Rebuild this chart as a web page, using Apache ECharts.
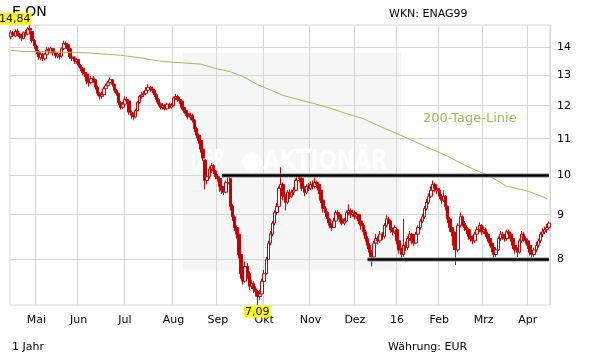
<!DOCTYPE html>
<html><head><meta charset="utf-8">
<script src="https://cdn.jsdelivr.net/npm/echarts@6/dist/echarts.min.js"></script>
<style>html,body{margin:0;padding:0;background:#fff}#c{width:611px;height:364px}</style>
</head><body><div id="c"></div>
<script>
// ---- data ----
const holidays = ['2015-05-01','2015-12-24','2015-12-25','2015-12-31','2016-01-01','2016-03-25','2016-03-28'];
const monthLabels = ['16','Feb','Mrz','Apr','Mai','Jun','Jul','Aug','Sep','Okt','Nov','Dez'];
const yTicks = [8,9,10,11,12,13,14];

const open = [
14.40,14.55,14.42,14.62,14.50,14.42,14.33,14.55,14.50,14.72,
14.60,14.25,14.05,13.85,13.62,13.75,13.58,13.75,13.92,13.82,
13.95,13.80,13.68,13.75,13.68,13.95,14.15,14.10,13.95,13.65,
13.60,13.48,13.55,13.35,13.25,13.10,13.05,12.80,12.75,12.90,
12.85,12.60,12.40,12.30,12.35,12.55,12.65,12.75,12.85,12.70,
12.50,12.40,12.10,11.95,12.05,12.20,12.15,11.80,11.70,11.65,
11.85,12.10,12.30,12.35,12.40,12.50,12.60,12.55,12.50,12.35,
12.20,12.05,11.95,12.00,11.90,12.05,11.95,12.00,12.25,12.30,
12.20,12.15,11.95,11.85,11.75,11.65,11.70,11.55,11.30,11.10,
10.95,10.70,10.40,9.85,9.95,10.15,10.25,10.10,9.95,9.90,
9.70,9.60,9.55,9.80,9.90,9.20,8.95,8.70,8.55,8.10,
7.70,7.55,7.85,7.70,7.45,7.50,7.40,7.35,7.25,7.30,
7.55,7.70,8.00,8.35,8.55,8.80,9.05,9.20,9.65,9.75,
9.45,9.30,9.55,9.45,9.55,9.60,9.85,9.95,9.90,9.65,
9.55,9.70,9.65,9.75,9.70,9.80,9.75,9.60,9.35,9.15,
9.05,8.90,8.75,8.70,8.85,9.05,9.00,8.90,8.80,8.85,
9.05,9.10,9.00,9.05,8.95,9.00,8.85,8.75,8.60,8.45,
8.30,8.15,8.05,8.35,8.45,8.40,8.55,8.50,8.75,8.90,
8.85,8.65,8.60,8.65,8.40,8.20,8.10,8.30,8.25,8.45,
8.55,8.40,8.35,8.55,8.70,8.85,8.95,9.15,9.30,9.45,
9.60,9.75,9.65,9.60,9.45,9.35,9.45,9.20,8.90,8.70,
8.60,8.30,8.20,8.75,8.95,8.80,8.70,8.65,8.50,8.45,
8.40,8.55,8.65,8.75,8.60,8.65,8.55,8.45,8.35,8.25,
8.10,8.20,8.45,8.55,8.50,8.45,8.60,8.55,8.45,8.30,
8.20,8.15,8.40,8.55,8.45,8.40,8.30,8.15,8.10,8.20,
8.30,8.40,8.55,8.60,8.65,8.70];
const close = [
14.55,14.45,14.60,14.50,14.40,14.35,14.55,14.50,14.70,14.65,
14.25,14.05,13.85,13.65,13.75,13.60,13.75,13.90,13.85,13.95,
13.80,13.70,13.75,13.65,13.95,14.15,14.10,13.95,13.65,13.60,
13.50,13.55,13.35,13.25,13.10,13.05,12.80,12.75,12.90,12.85,
12.60,12.40,12.30,12.35,12.55,12.65,12.75,12.85,12.70,12.50,
12.40,12.10,11.95,12.05,12.20,12.15,11.80,11.70,11.65,11.85,
12.10,12.30,12.35,12.40,12.50,12.60,12.55,12.50,12.35,12.20,
12.05,11.95,12.00,11.90,12.05,11.95,12.00,12.25,12.30,12.20,
12.15,11.95,11.85,11.75,11.65,11.70,11.55,11.30,11.10,10.95,
10.70,10.45,9.85,9.95,10.15,10.25,10.10,9.95,9.90,9.70,
9.60,9.55,9.80,9.95,9.20,8.95,8.70,8.55,8.10,7.70,
7.55,7.85,7.70,7.45,7.50,7.40,7.35,7.25,7.30,7.55,
7.70,8.00,8.35,8.55,8.80,9.05,9.20,9.65,9.75,9.45,
9.30,9.55,9.45,9.55,9.60,9.85,9.95,9.90,9.65,9.55,
9.70,9.65,9.75,9.70,9.80,9.75,9.60,9.35,9.15,9.05,
8.90,8.75,8.70,8.85,9.05,9.00,8.90,8.80,8.85,9.05,
9.10,9.00,9.05,8.95,9.00,8.85,8.75,8.60,8.45,8.30,
8.15,8.05,8.35,8.45,8.40,8.55,8.50,8.75,8.90,8.85,
8.65,8.60,8.70,8.40,8.20,8.10,8.30,8.25,8.45,8.55,
8.40,8.35,8.55,8.70,8.85,8.95,9.15,9.30,9.45,9.60,
9.75,9.65,9.60,9.45,9.35,9.45,9.20,8.90,8.70,8.60,
8.30,8.20,8.75,8.95,8.80,8.70,8.65,8.50,8.45,8.40,
8.55,8.65,8.75,8.60,8.65,8.55,8.45,8.35,8.25,8.10,
8.20,8.45,8.55,8.50,8.45,8.60,8.55,8.45,8.30,8.20,
8.15,8.40,8.55,8.45,8.40,8.30,8.15,8.10,8.20,8.30,
8.40,8.55,8.60,8.65,8.70,8.80];
const low = [
14.30,14.38,14.38,14.42,14.30,14.25,14.30,14.40,14.45,14.55,
14.18,13.95,13.75,13.55,13.55,13.50,13.52,13.70,13.75,13.78,
13.70,13.60,13.60,13.55,13.62,13.90,14.00,13.85,13.58,13.50,
13.40,13.40,13.28,13.15,13.00,12.95,12.70,12.62,12.70,12.75,
12.52,12.32,12.20,12.22,12.30,12.48,12.58,12.70,12.62,12.42,
12.32,12.02,11.88,11.90,12.00,12.05,11.72,11.60,11.55,11.60,
11.82,12.05,12.22,12.28,12.35,12.45,12.45,12.40,12.28,12.10,
11.98,11.88,11.88,11.85,11.88,11.90,11.90,11.98,12.18,12.12,
12.05,11.88,11.78,11.68,11.58,11.55,11.48,11.20,11.02,10.85,
10.60,10.38,9.62,9.75,9.90,10.05,10.02,9.88,9.82,9.55,
9.50,9.48,9.52,9.75,9.10,8.85,8.62,8.45,8.02,7.60,
7.48,7.52,7.60,7.38,7.40,7.32,7.25,7.09,7.18,7.28,
7.50,7.68,7.98,8.30,8.50,8.75,9.00,9.15,9.60,9.35,
9.10,9.25,9.38,9.40,9.48,9.58,9.80,9.80,9.58,9.45,
9.50,9.58,9.60,9.62,9.65,9.65,9.50,9.28,9.05,8.95,
8.80,8.68,8.62,8.68,8.82,8.92,8.82,8.75,8.75,8.82,
8.98,8.92,8.95,8.88,8.90,8.78,8.65,8.52,8.38,8.22,
8.05,7.85,8.02,8.30,8.32,8.35,8.42,8.45,8.70,8.78,
8.58,8.52,8.55,8.32,8.12,8.02,8.05,8.18,8.20,8.40,
8.32,8.28,8.32,8.50,8.65,8.80,8.90,9.10,9.25,9.40,
9.55,9.55,9.50,9.38,9.25,9.30,9.10,8.80,8.60,8.50,
8.20,7.88,8.15,8.70,8.72,8.62,8.55,8.42,8.38,8.32,
8.35,8.50,8.60,8.52,8.55,8.48,8.38,8.28,8.15,8.02,
8.05,8.18,8.40,8.42,8.38,8.40,8.48,8.38,8.22,8.12,
8.05,8.12,8.35,8.38,8.32,8.22,8.08,8.02,8.05,8.15,
8.25,8.35,8.48,8.55,8.58,8.65];
const high = [
14.65,14.62,14.68,14.70,14.55,14.50,14.60,14.65,14.78,14.84,
14.62,14.30,14.10,13.90,13.82,13.80,13.80,14.00,14.00,14.02,
13.98,13.85,13.82,13.80,14.00,14.25,14.22,14.15,13.98,13.72,
13.68,13.62,13.58,13.40,13.30,13.15,13.08,12.88,12.98,12.98,
12.88,12.65,12.45,12.45,12.62,12.72,12.82,12.92,12.88,12.72,
12.55,12.42,12.15,12.12,12.30,12.28,12.18,11.85,11.78,11.90,
12.15,12.35,12.45,12.48,12.60,12.70,12.65,12.62,12.55,12.40,
12.25,12.10,12.08,12.05,12.10,12.10,12.08,12.30,12.38,12.35,
12.28,12.18,12.00,11.90,11.80,11.78,11.75,11.58,11.35,11.15,
10.98,10.75,10.40,10.05,10.22,10.32,10.28,10.12,10.02,9.95,
9.75,9.65,9.85,10.00,9.92,9.25,8.98,8.75,8.60,8.12,
7.80,7.95,7.92,7.75,7.58,7.55,7.45,7.38,7.38,7.60,
7.78,8.05,8.40,8.62,8.85,9.10,9.28,9.70,10.20,9.80,
9.50,9.60,9.62,9.62,9.68,9.90,10.02,10.00,9.92,9.70,
9.75,9.78,9.82,9.85,9.95,9.85,9.78,9.62,9.38,9.20,
9.08,8.92,8.80,8.92,9.10,9.12,9.02,8.95,8.92,9.10,
9.25,9.15,9.12,9.10,9.05,9.02,8.90,8.80,8.65,8.50,
8.35,8.20,8.40,8.55,8.50,8.62,8.60,8.80,8.98,8.95,
8.88,8.70,8.75,8.68,8.45,8.25,8.90,8.38,8.50,8.62,
8.58,8.45,8.60,8.75,8.90,9.02,9.20,9.38,9.52,9.70,
9.85,9.80,9.72,9.65,9.50,9.60,9.48,9.22,8.95,8.75,
8.62,8.35,8.80,9.05,8.98,8.85,8.75,8.68,8.55,8.52,
8.60,8.72,8.82,8.78,8.72,8.70,8.60,8.50,8.40,8.28,
8.25,8.50,8.62,8.60,8.55,8.65,8.65,8.58,8.48,8.35,
8.25,8.45,8.62,8.60,8.50,8.45,8.35,8.20,8.25,8.38,
8.45,8.60,8.68,8.72,8.78,8.84];

// 200-Tage-Linie: points (trading-day index, price)
const ma200Idx = [0,5,19,38,46,52,62,70,81,90,98,104,110,117,123,129,135,143,151,159,166,175,184,197,207,216,227,235,245,254];
const ma200Val = [13.89,13.85,13.83,13.79,13.74,13.71,13.61,13.50,13.44,13.39,13.22,13.13,12.96,12.68,12.51,12.33,12.22,12.08,11.93,11.75,11.62,11.36,11.12,10.76,10.50,10.23,9.96,9.70,9.58,9.39];

const resistanceLevel = 10, resistanceFrom = 100;
const supportLevel = 8, supportFrom = 169;
const yMin = 7.09, yMax = 14.85;

// ---- trading-day calendar ----
const dates = [];
for (let t = Date.UTC(2015,3,15); t <= Date.UTC(2016,3,15); t += 86400000) {
  const d = new Date(t), wd = d.getUTCDay(), s = d.toISOString().slice(0,10);
  if (wd === 0 || wd === 6 || holidays.indexOf(s) >= 0) continue;
  dates.push(s);
}
const lg = Math.log10;
const n = Math.min(dates.length, close.length);
const candle = [];
for (let i = 0; i < n; i++) candle.push([lg(open[i]), lg(close[i]), lg(low[i]), lg(high[i])]);
const lastI = n - 1;
const isMonthStart = (i) => i > 0 && dates[i].slice(5,7) !== dates[i-1].slice(5,7);

let maxI = 0, minI = 0;
for (let i = 0; i < n; i++) { if (high[i] > high[maxI]) maxI = i; if (low[i] < low[minI]) minI = i; }
const fmt = v => v.toFixed(2).replace('.', ',');

const FONT = 'DejaVu Sans';
const RED = '#cc0000';
const GREEN = '#9cbe55';
const GRID = '#d6d6d6';

const chart = echarts.init(document.getElementById('c'), null, {renderer: 'canvas'});
chart.setOption({
  animation: false,
  backgroundColor: '#fff',
  grid: {left: 10, right: 61, top: 25, bottom: 59, show: true, borderColor: GRID, borderWidth: 1, backgroundColor: 'transparent'},
  xAxis: {
    type: 'category', data: dates.slice(0, n), boundaryGap: true,
    axisLine: {show: false},
    axisTick: {show: false, interval: isMonthStart},
    axisLabel: {interval: isMonthStart, formatter: v => monthLabels[parseInt(v.slice(5,7),10) - 1],
      margin: 10, color: '#000', fontSize: 11, fontFamily: FONT},
    splitLine: {show: true, interval: isMonthStart, lineStyle: {color: GRID, width: 1}}
  },
  yAxis: {
    type: 'value', position: 'right', min: lg(yMin), max: lg(yMax),
    axisLine: {show: false},
    axisTick: {show: false, customValues: yTicks.map(lg)},
    axisLabel: {customValues: yTicks.map(lg), formatter: v => String(Math.round(Math.pow(10, v))),
      margin: 7, color: '#000', fontSize: 11, fontFamily: FONT},
    splitLine: {show: true, lineStyle: {color: GRID, width: 1}}
  },
  graphic: [
    {type: 'rect', z: -1, silent: true, shape: {x: 183, y: 53, width: 218, height: 217}, style: {fill: '#f6f6f6'}},
    {type: 'text', z: 1, silent: true, x: 191, y: 162, scaleX: 0.55,
      style: {x: 0, y: 0, text: 'DER', font: 'bold 27px "DejaVu Sans"', fill: '#ffffff', verticalAlign: 'middle'}},
    {type: 'circle', z: 1, silent: true, shape: {cx: 252, cy: 162, r: 10}, style: {fill: '#ffffff'}},
    {type: 'text', z: 1, silent: true, x: 263, y: 162, scaleX: 0.79,
      style: {x: 0, y: 0, text: 'AKTIONÄR', font: 'bold 27px "DejaVu Sans"', fill: '#ffffff', verticalAlign: 'middle'}},
    {type: 'text', z: 1, silent: true, style: {x: 12, y: 12, text: 'E.ON', font: '14px "DejaVu Sans"', fill: '#000', verticalAlign: 'middle'}},
    {type: 'text', z: 1, silent: true, style: {x: 389, y: 14, text: 'WKN: ENAG99', font: '11px "DejaVu Sans"', fill: '#000', verticalAlign: 'middle'}},
    {type: 'text', z: 1, silent: true, style: {x: 12, y: 347.5, text: '1 Jahr', font: '11px "DejaVu Sans"', fill: '#000', verticalAlign: 'middle'}},
    {type: 'text', z: 1, silent: true, style: {x: 388, y: 347.5, text: 'Währung: EUR', font: '11px "DejaVu Sans"', fill: '#000', verticalAlign: 'middle'}},
    {type: 'text', z: 1, silent: true, style: {x: 423, y: 119, text: '200-Tage-Linie', font: '13px "DejaVu Sans"', fill: GREEN, verticalAlign: 'middle'}}
  ],
  series: [
    {
      type: 'candlestick', data: candle, barWidth: 3, z: 2, silent: true,
      itemStyle: {color: '#ffffff', color0: RED, borderColor: RED, borderColor0: RED, borderWidth: 1},
      markPoint: {
        silent: true, symbol: 'circle', symbolSize: 1, itemStyle: {color: 'rgba(0,0,0,0)'},
        label: {show: true, color: '#000', fontSize: 11, fontFamily: FONT, backgroundColor: '#ffff00', padding: [1, 1, 0, 1]},
        data: [
          {coord: [maxI, lg(high[maxI])], label: {formatter: fmt(high[maxI]), position: [0, 0], align: 'right', verticalAlign: 'bottom', offset: [2, 0]}},
          {coord: [minI, lg(low[minI])], label: {formatter: fmt(low[minI]), position: [0, 0], align: 'center', verticalAlign: 'top', offset: [0, 1]}}
        ]
      }
    },
    {
      type: 'line', z: 3, silent: true, symbol: 'none', showSymbol: false,
      data: ma200Idx.map((x, k) => [x, lg(ma200Val[k])]),
      lineStyle: {color: GREEN, width: 1},
      markLine: {
        silent: true, symbol: 'none', label: {show: false}, animation: false,
        data: [
          [{coord: [resistanceFrom, lg(resistanceLevel)], lineStyle: {color: '#9a9a9a', width: 5, opacity: 0.6, type: 'solid'}}, {coord: [lastI, lg(resistanceLevel)]}],
          [{coord: [resistanceFrom, lg(resistanceLevel)], lineStyle: {color: '#000', width: 2.5, type: 'solid'}}, {coord: [lastI, lg(resistanceLevel)]}],
          [{coord: [supportFrom, lg(supportLevel)], lineStyle: {color: '#9a9a9a', width: 5, opacity: 0.6, type: 'solid'}}, {coord: [lastI, lg(supportLevel)]}],
          [{coord: [supportFrom, lg(supportLevel)], lineStyle: {color: '#000', width: 2.5, type: 'solid'}}, {coord: [lastI, lg(supportLevel)]}]
        ]
      }
    }
  ]
});
</script></body></html>
